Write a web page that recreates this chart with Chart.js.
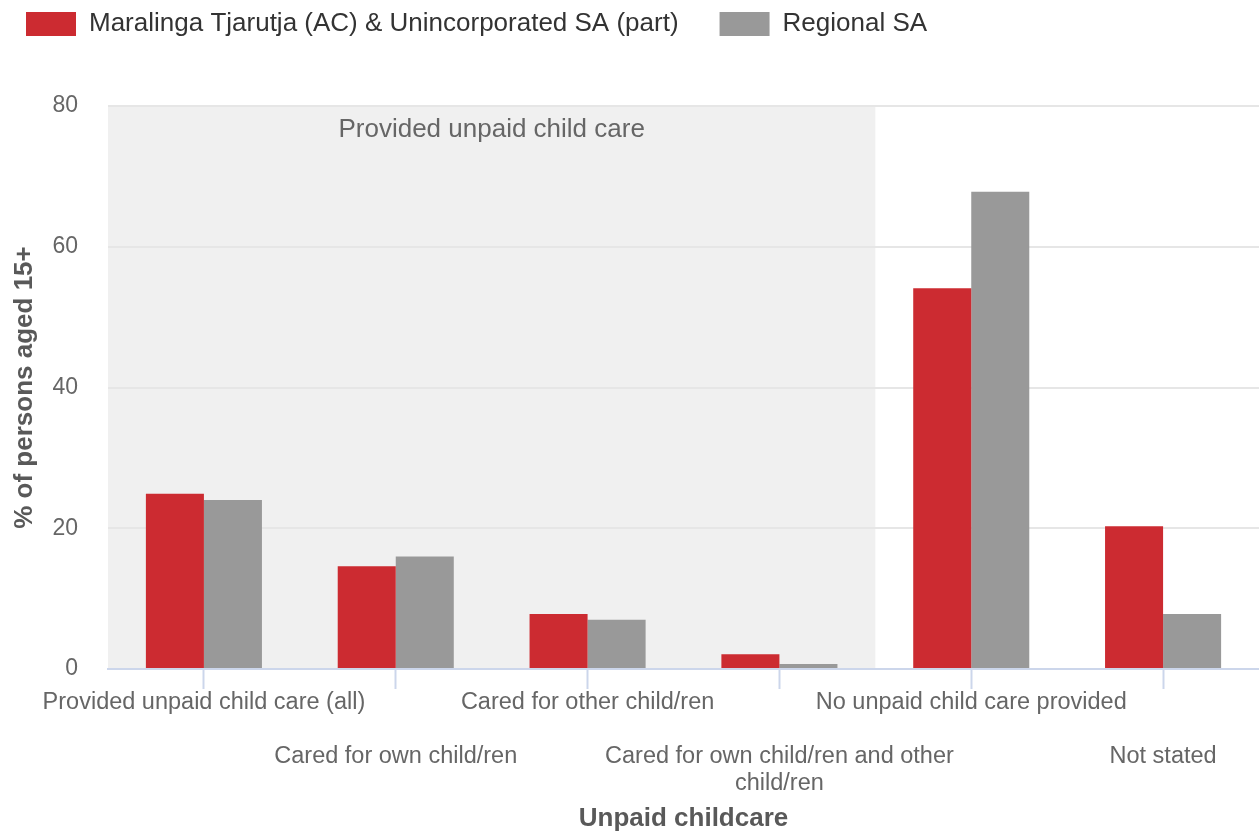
<!DOCTYPE html>
<html><head><meta charset="utf-8">
<script src="https://cdn.jsdelivr.net/npm/chart.js@4/dist/chart.umd.min.js"></script>
<style>html,body{margin:0;padding:0;background:#fff}#wrap{width:1259px;height:837px}</style>
</head><body><div id="wrap"><canvas id="c" width="1259" height="837"></canvas></div>
<script>
const categories = [
  'Provided unpaid child care (all)',
  'Cared for own child/ren',
  'Cared for other child/ren',
  'Cared for own child/ren and other child/ren',
  'No unpaid child care provided',
  'Not stated'
];
const tickLabels = [
  ['Provided unpaid child care (all)'],
  ['', '', 'Cared for own child/ren'],
  ['Cared for other child/ren'],
  ['', '', 'Cared for own child/ren and other', 'child/ren'],
  ['No unpaid child care provided'],
  ['', '', 'Not stated']
];
const seriesNames = ['Maralinga Tjarutja (AC) & Unincorporated SA (part)', 'Regional SA'];
const maralinga = [24.9, 14.6, 7.8, 2.1, 54.1, 20.3];
const regionalSA = [24.0, 16.0, 7.0, 0.7, 67.8, 7.8];
const yMin = 0, yMax = 80, yStep = 20;
const bandLabel = 'Provided unpaid child care';
const bandFrom = 0, bandTo = 3;
const xTitle = 'Unpaid childcare';
const yTitle = '% of persons aged 15+';

const FONT = "'Liberation Sans', Arial, sans-serif";

const bandPlugin = {
  id: 'band',
  beforeDraw(chart) {
    const x = chart.scales.x, y = chart.scales.y, ctx = chart.ctx;
    const step = x.getPixelForValue(1) - x.getPixelForValue(0);
    const x0 = x.getPixelForValue(bandFrom) - step / 2;
    const x1 = (x.getPixelForValue(bandTo) + x.getPixelForValue(bandTo + 1)) / 2;
    const y0 = y.getPixelForValue(yMax), y1 = y.getPixelForValue(yMin);
    ctx.save();
    ctx.fillStyle = '#f0f0f0';
    ctx.fillRect(x0, y0, x1 - x0, y1 - y0);
    ctx.fillStyle = '#666666';
    ctx.font = "26px " + FONT;
    ctx.textAlign = 'center';
    ctx.textBaseline = 'middle';
    ctx.fillText(bandLabel, (x0 + x1) / 2, y0 + 24);
    ctx.restore();
  }
};

const legendPos = {
  id: 'legendPos',
  beforeLayout(chart) {
    const lg = chart.legend;
    if (lg && !lg._wrapped) {
      const orig = lg.fit;
      lg.fit = function () { orig.call(this); this.height = 106; };
      lg._wrapped = true;
    }
  },
  afterLayout(chart) {
    const lg = chart.legend;
    const p = lg.options.labels.padding;
    lg.left = 26 - p;
    lg.top = 11 - p;
  }
};

new Chart(document.getElementById('c'), {
  type: 'bar',
  data: {
    labels: categories,
    datasets: [
      { label: seriesNames[0], data: maralinga, backgroundColor: '#cc2b31', borderWidth: 0 },
      { label: seriesNames[1], data: regionalSA, backgroundColor: '#999999', borderWidth: 0 }
    ]
  },
  options: {
    responsive: false,
    devicePixelRatio: 1,
    animation: false,
    layout: { padding: 0 },
    datasets: { bar: { categoryPercentage: 0.605, barPercentage: 1 } },
    plugins: {
      tooltip: { enabled: false },
      legend: {
        position: 'top',
        align: 'start',
        labels: {
          boxWidth: 50, boxHeight: 24, padding: 41,
          color: '#333333',
          font: { family: FONT, size: 26 }
        }
      }
    },
    scales: {
      x: {
        offset: true,
        afterFit(s) { s.height = 168; },
        grid: { display: true, drawOnChartArea: false, drawTicks: true, offset: false, tickLength: 20, tickColor: '#ccd6eb', tickWidth: 2 },
        border: { display: true, color: '#ccd6eb', width: 2 },
        ticks: {
          autoSkip: false, maxRotation: 0, minRotation: 0, padding: 0,
          color: '#666666',
          font: { family: FONT, size: 23.5, lineHeight: '27px' },
          callback: (v, i) => tickLabels[i]
        },
        title: { display: true, text: xTitle, color: '#595959', font: { family: FONT, size: 26, weight: 'bold' }, padding: { top: 0, bottom: 3 } }
      },
      y: {
        min: yMin, max: yMax,
        afterFit(s) { s.width = 108; },
        grid: { color: '#e6e6e6', lineWidth: 2, drawTicks: false },
        border: { display: false },
        ticks: { stepSize: yStep, padding: 30, color: '#666666', font: { family: FONT, size: 23 } },
        title: { display: true, text: yTitle, color: '#595959', font: { family: FONT, size: 26, weight: 'bold' }, padding: { top: 9, bottom: 0 } }
      }
    }
  },
  plugins: [bandPlugin, legendPos]
});
</script></body></html>
